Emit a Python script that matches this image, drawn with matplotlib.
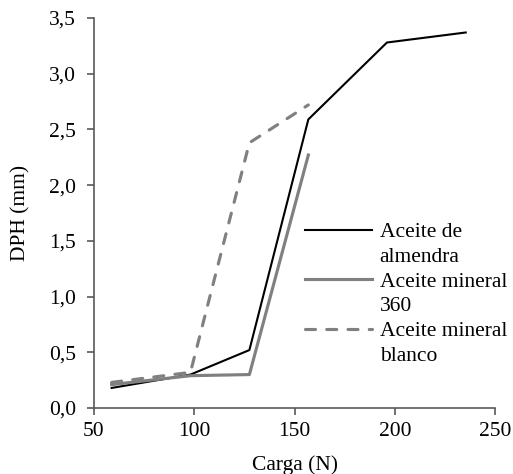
import matplotlib
matplotlib.use("Agg")
from matplotlib import pyplot as plt
from matplotlib.lines import Line2D
from matplotlib.ticker import FuncFormatter

plt.rcParams['font.family'] = ['Liberation Serif', 'DejaVu Serif']
plt.rcParams['font.size'] = 15.5

carga = [58.8, 98.1, 127.5, 156.9, 196.1, 235.4]
almendra = [0.18, 0.30, 0.52, 2.59, 3.28, 3.37]
mineral_360 = [0.21, 0.29, 0.30, 2.27]
mineral_blanco = [0.23, 0.32, 2.38, 2.72]

labels_legend = ["Aceite de", "almendra", "Aceite mineral", "360", "Aceite mineral", "blanco"]

fig = plt.figure(figsize=(5.13, 4.74), dpi=100)
ax = fig.add_axes([94 / 513, 1 - 408 / 474, 401 / 513, 390 / 474])

l1, = ax.plot(carga, almendra, color="black", lw=1.5)
l2, = ax.plot(carga[:4], mineral_360, color="#808080", lw=2.25)
l3, = ax.plot(carga[:4], mineral_blanco, color="#808080", lw=2.25,
              dashes=(3.2, 3.6), dash_capstyle="round")

ax.set_xlim(50, 250)
ax.set_ylim(0, 3.5)
ax.set_xticks([50, 100, 150, 200, 250])
ax.set_yticks([0, 0.5, 1.0, 1.5, 2.0, 2.5, 3.0, 3.5])
ax.yaxis.set_major_formatter(FuncFormatter(lambda v, p: f"{v:.1f}".replace(".", ",")))

for side in ["top", "right"]:
    ax.spines[side].set_visible(False)
for side in ["left", "bottom"]:
    ax.spines[side].set_color("#595959")
    ax.spines[side].set_linewidth(1.2)
ax.tick_params(direction="out", length=5, width=1.2, color="#595959")
ax.tick_params(axis="y", pad=8)
ax.tick_params(axis="x", pad=5)

ax.set_xlabel("Carga (N)", labelpad=10)
ax.set_ylabel("DPH (mm)", labelpad=13)

blank = Line2D([], [], linestyle="none")
handles = [l1, blank, l2, blank, l3, blank]
ax.legend(handles, labels_legend, loc="upper left",
          bbox_to_anchor=(305 / 513, 1 - 222 / 474), bbox_transform=fig.transFigure,
          frameon=False, borderpad=0, borderaxespad=0, handlelength=3.1,
          handletextpad=0.37, labelspacing=0.22)

fig.savefig("out.png", dpi=100)
